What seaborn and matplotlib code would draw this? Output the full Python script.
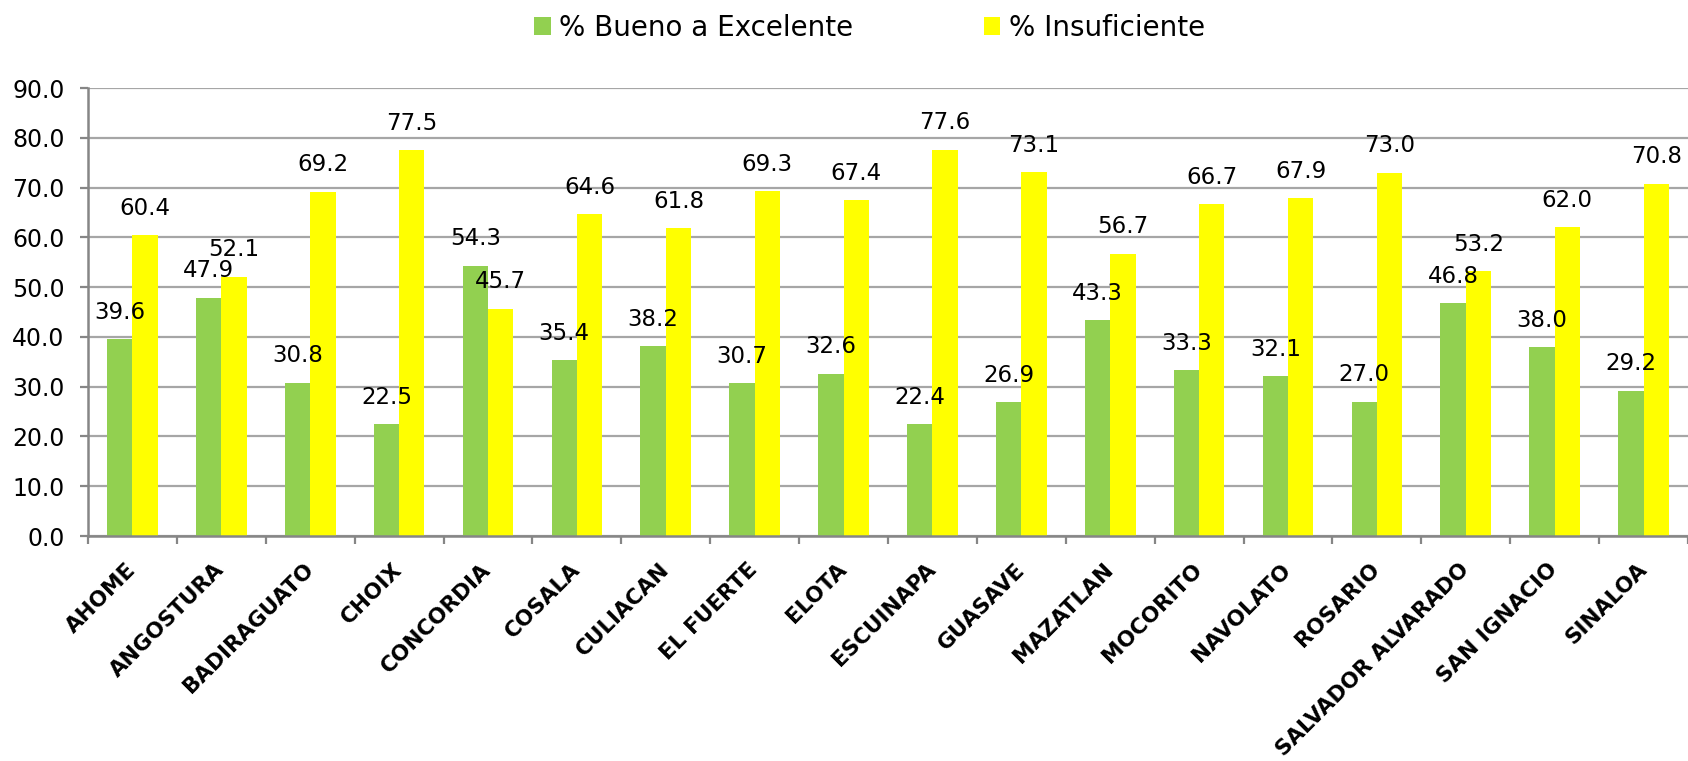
import numpy as np
import pandas as pd
import matplotlib
matplotlib.use("Agg")
import matplotlib.pyplot as plt
import seaborn as sns

# -----------------------------
# Data
# -----------------------------
municipios = ["AHOME", "ANGOSTURA", "BADIRAGUATO", "CHOIX", "CONCORDIA", "COSALA",
              "CULIACAN", "EL FUERTE", "ELOTA", "ESCUINAPA", "GUASAVE", "MAZATLAN",
              "MOCORITO", "NAVOLATO", "ROSARIO", "SALVADOR ALVARADO", "SAN IGNACIO",
              "SINALOA"]
bueno = [39.6, 47.9, 30.8, 22.5, 54.3, 35.4, 38.2, 30.7, 32.6, 22.4, 26.9, 43.3,
         33.3, 32.1, 27.0, 46.8, 38.0, 29.2]
insuficiente = [60.4, 52.1, 69.2, 77.5, 45.7, 64.6, 61.8, 69.3, 67.4, 77.6, 73.1,
                56.7, 66.7, 67.9, 73.0, 53.2, 62.0, 70.8]
series = ["% Bueno a Excelente", "% Insuficiente"]
colores = ["#92D050", "#FFFF00"]
y_ticks = [0, 10, 20, 30, 40, 50, 60, 70, 80, 90]

df = pd.DataFrame({
    "municipio": municipios * 2,
    "serie": [series[0]] * len(municipios) + [series[1]] * len(municipios),
    "valor": bueno + insuficiente,
})

# -----------------------------
# Style
# -----------------------------
sns.set_style("white")
plt.rcParams["font.family"] = ["DejaVu Sans"]
plt.rcParams["text.color"] = "black"
plt.rcParams["xtick.color"] = "black"
plt.rcParams["ytick.color"] = "black"
grid_col = "#a6a6a6"
axis_col = "#868686"

fig = plt.figure(figsize=(16.88, 7.61), dpi=100)
ax = fig.add_axes([88 / 1688, 1 - 536 / 761, 1 - 88 / 1688, (536 - 88) / 761])

sns.barplot(data=df, x="municipio", y="valor", hue="serie", hue_order=series,
            palette=colores, saturation=1, width=0.57, gap=0, linewidth=0,
            errorbar=None, ax=ax)

# data labels
for cont in ax.containers:
    ax.bar_label(cont, fmt="%.1f", padding=11, fontsize=16.5, color="black")

# -----------------------------
# Axes
# -----------------------------
ax.set_ylim(0, 90)
ax.set_xlim(-0.5, len(municipios) - 0.5)
ax.set_yticks(y_ticks)
ax.set_yticklabels([f"{v:.1f}" for v in y_ticks], fontsize=17)
ax.yaxis.grid(True, color=grid_col, linewidth=1.6)
ax.set_axisbelow(True)
ax.set_xlabel("")
ax.set_ylabel("")

for s in ["top", "right"]:
    ax.spines[s].set_visible(False)
for s in ["left", "bottom"]:
    ax.spines[s].set_color(axis_col)
    ax.spines[s].set_linewidth(1.8)

ax.tick_params(axis="y", length=6, width=1.6, color=axis_col, labelcolor="black",
               pad=11, left=True)
ax.set_xticks(np.arange(len(municipios)))
ax.set_xticklabels(municipios, rotation=45, ha="right", va="center",
                   rotation_mode="anchor", fontsize=15.5, fontweight="bold")
ax.tick_params(axis="x", which="major", length=0, pad=22, labelcolor="black")
ax.set_xticks(np.arange(len(municipios) + 1) - 0.5, minor=True)
ax.tick_params(axis="x", which="minor", length=6, width=1.6, color=axis_col,
               bottom=True)

# legend at top
handles, labels = ax.get_legend_handles_labels()
ax.get_legend().remove()
fig.legend(handles, labels, loc="center left", bbox_to_anchor=(534 / 1688, 1 - 28 / 761),
           ncol=2, frameon=False, fontsize=20, handlelength=0.6, handleheight=0.6,
           handletextpad=0.3, columnspacing=4.7, borderpad=0, borderaxespad=0)

plt.savefig("out.png", dpi=100)
plt.close()
